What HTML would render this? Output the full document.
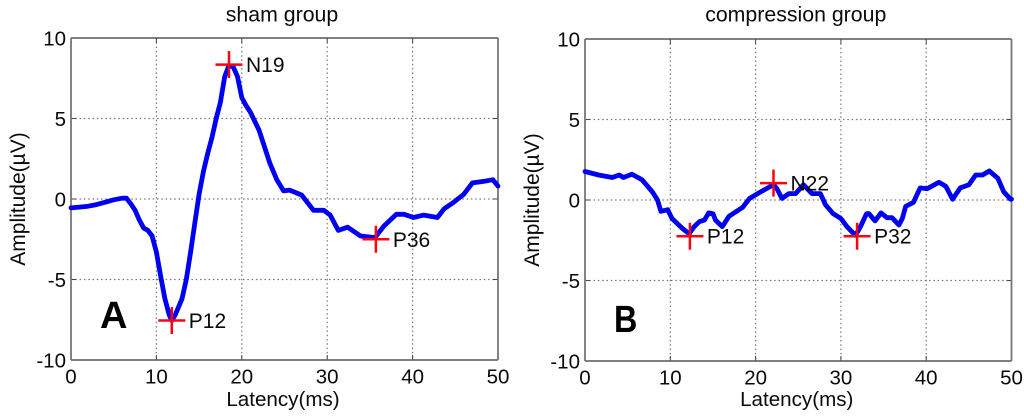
<!DOCTYPE html>
<html>
<head>
<meta charset="utf-8">
<style>
html,body{margin:0;padding:0;background:#fff;width:1024px;height:416px;overflow:hidden}
svg{display:block}
text{font-family:"Liberation Sans",sans-serif;fill:#0a0a0a}
</style>
</head>
<body>
<svg id="fig" width="1024" height="416" viewBox="0 0 1024 416" xmlns="http://www.w3.org/2000/svg"></svg>
<script>
const xTicks = [0, 10, 20, 30, 40, 50];
const yTicks = [-10, -5, 0, 5, 10];

const shamTitle = 'sham group';
const shamLatency = [0,1,2,3,4,5,6,6.5,7,7.5,8,8.5,9,9.5,10,10.5,11,11.5,11.8,12.2,13,13.5,14,14.5,15,15.5,16,16.5,17,17.5,18,18.5,19,19.5,20,20.5,21,22,23.3,24.1,24.9,25.6,27,28.4,29.6,30.35,31.3,32.4,33.9,35.6,36.6,38.1,39,40.1,41.3,42.9,43.7,44.7,46,47,48.4,49.4,50];
const shamAmplitude = [-0.55,-0.5,-0.45,-0.35,-0.2,-0.05,0.05,0.05,-0.3,-0.7,-1.3,-1.8,-1.95,-2.3,-3.3,-4.8,-6.2,-7.2,-7.55,-7.2,-6.2,-5,-3.3,-1.5,0.3,1.7,2.8,3.8,5,6,7.6,8.3,8.2,7.6,6.3,5.8,5.4,4.3,2.2,1.2,0.5,0.55,0.25,-0.7,-0.7,-1,-1.95,-1.75,-2.3,-2.4,-1.7,-0.95,-0.95,-1.15,-1,-1.15,-0.6,-0.25,0.3,1,1.1,1.2,0.8];
const shamPeakNames = ['N19', 'P12', 'P36'];
const shamPeakLatency = [18.5, 11.8, 35.7];
const shamPeakAmplitude = [8.35, -7.55, -2.5];

const compTitle = 'compression group';
const compLatency = [0,1.6,3.2,4,4.5,5.5,6.7,7.9,8.5,8.9,9.7,10.2,11.4,12.2,12.8,13.4,14,14.5,15,15.3,16.1,16.9,18.5,19.3,20.4,22.1,22.5,23.1,23.9,24.7,25.6,26.6,27.6,28.2,29.1,30,30.7,31.7,32.3,33,33.3,34,34.7,35.4,36,36.8,37.2,37.6,38.5,39.3,40.1,41.5,42.3,43.1,44,45,45.8,46.6,47.4,48.4,49.1,49.9,50];
const compAmplitude = [1.77,1.55,1.4,1.55,1.4,1.6,1.25,0.5,0,-0.7,-0.6,-1.15,-1.75,-2.1,-1.65,-1.35,-1.25,-0.8,-0.85,-1.25,-1.65,-1,-0.45,0.1,0.45,0.95,0.7,0.1,0.4,0.4,0.95,0.4,0.4,-0.3,-0.85,-1.15,-1.65,-2.2,-1.65,-0.85,-0.85,-1.3,-0.8,-1.1,-1.1,-1.55,-1.15,-0.4,-0.15,0.75,0.7,1.1,0.85,0.05,0.75,0.95,1.55,1.55,1.8,1.35,0.5,0.05,0.05];
const compPeakNames = ['P12', 'N22', 'P32'];
const compPeakLatency = [12.3, 22.1, 31.9];
const compPeakAmplitude = [-2.25, 1.05, -2.25];

const NS = 'http://www.w3.org/2000/svg';
const fig = document.getElementById('fig');

function make(parent, tag, attrs, txt) {
  const el = document.createElementNS(NS, tag);
  for (const k in attrs) el.setAttribute(k, attrs[k]);
  if (txt !== undefined) el.textContent = txt;
  parent.appendChild(el);
  return el;
}

function panel(cfg) {
  const g = make(fig, 'g', {});
  
  
  const sx = v => cfg.x0 + (v - 0) * (cfg.x1 - cfg.x0) / 50;
  const sy = v => cfg.y0 + (10 - v) * (cfg.y1 - cfg.y0) / 20;

  xTicks.forEach(t => {
    if (t > 0 && t < 50) {
      const l = make(g, 'line', {x1: sx(t), x2: sx(t), y1: cfg.y0, y2: cfg.y1, stroke: '#777', 'stroke-width': 1.2, 'stroke-dasharray': '1.5 2.8'});
      
      
      make(g, 'line', {x1: sx(t), x2: sx(t), y1: cfg.y1, y2: cfg.y1 - 5, stroke: '#444', 'stroke-width': 1});
      make(g, 'line', {x1: sx(t), x2: sx(t), y1: cfg.y0, y2: cfg.y0 + 5, stroke: '#444', 'stroke-width': 1});
    }
    const lab = make(g, 'text', {x: sx(t), y: cfg.y1 + 23.5, 'font-size': 20.5, 'text-anchor': 'middle'}, String(t));
    
    
  });

  yTicks.forEach(t => {
    if (t > -10 && t < 10) {
      const l = make(g, 'line', {x1: cfg.x0, x2: cfg.x1, y1: sy(t), y2: sy(t), stroke: '#777', 'stroke-width': 1.2, 'stroke-dasharray': '1.5 2.8'});
      
      
      make(g, 'line', {x1: cfg.x0, x2: cfg.x0 + 5, y1: sy(t), y2: sy(t), stroke: '#444', 'stroke-width': 1});
      make(g, 'line', {x1: cfg.x1, x2: cfg.x1 - 5, y1: sy(t), y2: sy(t), stroke: '#444', 'stroke-width': 1});
    }
    const lab = make(g, 'text', {x: cfg.x0 - 5, y: sy(t) + 7.5, 'font-size': 20.5, 'text-anchor': 'end'}, String(t));
    
    
  });

  const top = make(g, 'line', {x1: cfg.x0, x2: cfg.x1, y1: cfg.y0, y2: cfg.y0, stroke: '#555', 'stroke-width': 1.5});
  
  
  const bottom = make(g, 'line', {x1: cfg.x0, x2: cfg.x1, y1: cfg.y1, y2: cfg.y1, stroke: '#555', 'stroke-width': 1.5});
  
  
  const left = make(g, 'line', {x1: cfg.x0, x2: cfg.x0, y1: cfg.y0, y2: cfg.y1, stroke: '#777', 'stroke-width': 1.8});
  
  
  const right = make(g, 'line', {x1: cfg.x1, x2: cfg.x1, y1: cfg.y0, y2: cfg.y1, stroke: '#777', 'stroke-width': 1.8});
  
  

  const pts = cfg.lat.map((v, i) => sx(v).toFixed(1) + ',' + sy(cfg.amp[i]).toFixed(1)).join(' ');
  const line = make(g, 'polyline', {points: pts, fill: 'none', stroke: '#0000f0', 'stroke-width': 4.8, 'stroke-linejoin': 'round', 'stroke-linecap': 'round'});
  
  

  cfg.peakNames.forEach((n, i) => {
    const px = sx(cfg.peakLat[i]);
    const py = sy(cfg.peakAmp[i]);
    const h = make(g, 'line', {x1: px - 13.5, x2: px + 13.5, y1: py, y2: py, stroke: '#ff0010', 'stroke-width': 2.5});
    
    
    const v = make(g, 'line', {x1: px, x2: px, y1: py - 13.5, y2: py + 13.5, stroke: '#ff0010', 'stroke-width': 2.5});
    
    
    const lab = make(g, 'text', {x: px + 17, y: py + 7.5, 'font-size': 21}, n);
    
    
  });

  const title = make(g, 'text', {x: (cfg.x0 + cfg.x1) / 2 - 2.5, y: 21.5, 'font-size': 21.3, 'text-anchor': 'middle'}, cfg.title);
  
  
  const xl = make(g, 'text', {x: (cfg.x0 + cfg.x1) / 2 - 1.5, y: 406, 'font-size': 20.6, 'text-anchor': 'middle'}, 'Latency(ms)');
  
  
  const yl = make(g, 'text', {x: 0, y: 0, 'font-size': 21, 'text-anchor': 'middle', transform: 'translate(' + (cfg.x0 - 46) + ',' + (cfg.y0 + cfg.y1) / 2 + ') rotate(-90)'}, 'Amplitude(\u00b5V)');
  
  

  const letter = make(g, 'text', {x: 0, y: 0, 'font-size': 38, 'font-weight': 'bold', 'text-anchor': 'start', transform: 'translate(' + cfg.letterX + ',' + cfg.letterY + ') scale(' + cfg.letterScale + ',1)', style: 'fill:#000'}, cfg.letter);
  
  
}

panel({name: 'sham-panel', title: shamTitle, x0: 71, x1: 498, y0: 38, y1: 360, lat: shamLatency, amp: shamAmplitude, peakNames: shamPeakNames, peakLat: shamPeakLatency, peakAmp: shamPeakAmplitude, letter: 'A', letterX: 100, letterY: 328, letterScale: 1});
panel({name: 'compression-panel', title: compTitle, x0: 585, x1: 1011.5, y0: 39, y1: 361, lat: compLatency, amp: compAmplitude, peakNames: compPeakNames, peakLat: compPeakLatency, peakAmp: compPeakAmplitude, letter: 'B', letterX: 614, letterY: 332, letterScale: 0.85});
</script>
</body>
</html>
